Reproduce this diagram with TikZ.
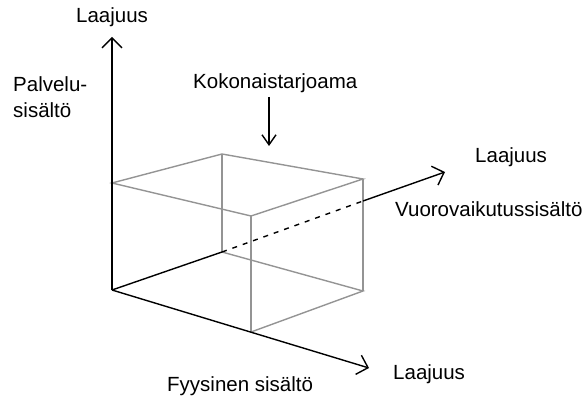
\documentclass[tikz,border=0pt]{standalone}
\usepackage{fontspec}
\setmainfont{Liberation Sans}
\usetikzlibrary{arrows.meta}
\begin{document}
\begin{tikzpicture}[x=1pt,y=-1pt,
  axis/.style={black, line width=1.4pt},
  axarrow/.style={-{Straight Barb[length=10pt,width=20pt,line width=1.4pt]}},
  smallarrow/.style={black, line width=1.4pt, -{Straight Barb[length=10pt,width=14pt,line width=1.4pt]}},
  edge/.style={black!42, line width=1.4pt},
  dashedline/.style={black, line width=1.4pt, dash pattern=on 5pt off 6pt},
  lbl/.style={anchor=base west, inner sep=0pt, font=\fontsize{20.5}{24}\selectfont}]
\useasboundingbox (0,0) rectangle (586,398);
% axes end points
\coordinate (O) at (112,290);
\coordinate (Ytip) at (112,37);
\coordinate (Xtip) at (369,368);
\coordinate (Dtip) at (445,172);
% box vertices
\coordinate (B) at (222,252);
\coordinate (F) at (251,332);
\coordinate (R) at (363,291);
\coordinate (Ot) at (112,183);
\coordinate (Bt) at (222,154);
\coordinate (Ft) at (251,216);
\coordinate (Rt) at (363,179);
\coordinate (Q) at (363,201);
% box edges
\draw[edge] (Ot) -- (Bt) -- (Rt) -- (Ft) -- cycle;
\draw[edge] (B) -- (Bt);
\draw[edge] (F) -- (Ft);
\draw[edge] (R) -- (Rt);
\draw[edge] (B) -- (R) -- (F);
% axes
\draw[axis,axarrow] (O) -- (Ytip);
\draw[axis,axarrow] (O) -- (Xtip);
\draw[axis] (O) -- (B);
\draw[dashedline] (B) -- (Q);
\draw[axis,axarrow] (Q) -- (Dtip);
% labels
\node[lbl] (ly) at (76,23) {Laajuus};
\node[lbl] (pal1) at (13,92) {Palvelu-};
\node[lbl] (pal2) at (13,118) {sisältö};
\node[lbl] (kok) at (193,89) {Kokonaistarjoama};
\node[lbl] (ld) at (475,163) {Laajuus};
\node[lbl] (vuo) at (395,217) {Vuorovaikutussisältö};
\node[lbl] (lx) at (393,379) {Laajuus};
\node[lbl] (fyy) at (167,391) {Fyysinen sisältö};
% pointer arrow
\coordinate (k1) at (269,97);
\coordinate (k2) at (269,146);
\draw[smallarrow] (k1) -- (k2);
\end{tikzpicture}
\end{document}
